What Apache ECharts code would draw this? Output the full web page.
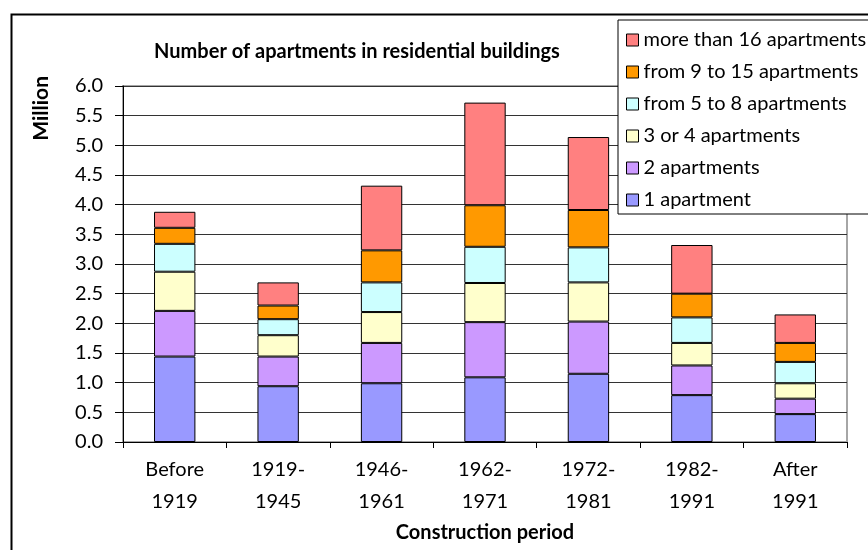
<!DOCTYPE html>
<html>
<head>
<meta charset="utf-8">
<script src="https://cdn.jsdelivr.net/npm/echarts@6/dist/echarts.min.js"></script>
<style>
  html, body { margin: 0; padding: 0; background: #fff; }
  #chart { width: 868px; height: 550px; }
</style>
</head>
<body>
<div id="chart"></div>
<script>
// values in million apartments
let periods = ["Before\n1919", "1919-\n1945", "1946-\n1961", "1962-\n1971", "1972-\n1981", "1982-\n1991", "After\n1991"];
let oneApt = [1.44, 0.94, 0.99, 1.09, 1.15, 0.79, 0.47];
let twoApt = [0.77, 0.50, 0.68, 0.93, 0.88, 0.50, 0.26];
let threeFourApt = [0.66, 0.36, 0.52, 0.66, 0.66, 0.38, 0.26];
let fiveEightApt = [0.47, 0.27, 0.50, 0.61, 0.59, 0.43, 0.36];
let nineFifteenApt = [0.27, 0.23, 0.54, 0.70, 0.63, 0.40, 0.32];
let over16Apt = [0.27, 0.39, 1.09, 1.73, 1.23, 0.82, 0.48];

let seriesNames = ["1 apartment", "2 apartments", "3 or 4 apartments", "from 5 to 8 apartments", "from 9 to 15 apartments", "more than 16 apartments"];
let seriesValues = [oneApt, twoApt, threeFourApt, fiveEightApt, nineFifteenApt, over16Apt];
let colors = ["#9999FF", "#CC99FF", "#FFFFCC", "#CCFFFF", "#FF9900", "#FF8080"];

let font = "Lato";
let chart = echarts.init(document.getElementById("chart"));

let series = seriesNames.map((name, i) => ({
    name: name,
    type: "bar",
    stack: "total",
    barWidth: "40%",
    data: seriesValues[i],
    itemStyle: { color: colors[i], borderColor: "#000", borderWidth: 1 }
}));

chart.setOption({
    animation: false,
    textStyle: { fontFamily: font, color: "#000" },
    title: {
        text: "Number of apartments in residential buildings",
        left: 352,
        top: 37,
        textAlign: "center",
        textStyle: { fontFamily: font, fontSize: 20, fontWeight: "bold", color: "#000" }
    },
    legend: {
        orient: "vertical",
        left: 618,
        top: 20,
        data: seriesNames.slice().reverse(),
        backgroundColor: "#fff",
        borderColor: "#000",
        borderWidth: 1,
        padding: [10, 40, 4, 8],
        itemWidth: 12,
        itemHeight: 12,
        itemGap: 12,
        icon: "rect",
        itemStyle: { borderColor: "#000", borderWidth: 1 },
        textStyle: { fontFamily: font, fontSize: 20, color: "#000" }
    },
    grid: {
        left: 123,
        right: 21,
        top: 86,
        bottom: 108,
        show: true,
        borderColor: "#a6a6a6",
        borderWidth: 2
    },
    xAxis: {
        type: "category",
        data: periods,
        name: "Construction period",
        nameLocation: "middle",
        nameGap: 79,
        nameTextStyle: { fontFamily: font, fontSize: 20, fontWeight: "bold", color: "#000" },
        axisLine: { lineStyle: { color: "#000", width: 1 } },
        axisTick: { show: true, length: 6, lineStyle: { color: "#000" } },
        axisLabel: { fontFamily: font, fontSize: 20, color: "#000", lineHeight: 32, margin: 12 }
    },
    yAxis: {
        type: "value",
        min: 0,
        max: 6,
        interval: 0.5,
        axisLine: { show: true, lineStyle: { color: "#000", width: 1 } },
        axisTick: { show: true, length: 8, lineStyle: { color: "#000" } },
        axisLabel: { fontFamily: font, fontSize: 20, color: "#000", margin: 20, formatter: v => v.toFixed(1) },
        splitLine: { lineStyle: { color: "#333", width: 1 } }
    },
    graphic: [
        {
            type: "rect",
            left: 9,
            top: 12,
            shape: { width: 900, height: 600 },
            style: { fill: "none", stroke: "#000", lineWidth: 2 },
            z: -10
        },
        {
            type: "text",
            left: 31,
            top: 76,
            rotation: Math.PI / 2,
            style: { text: "Million", font: "bold 21px " + font, fill: "#000" }
        }
    ],
    series: series
});
</script>
</body>
</html>
